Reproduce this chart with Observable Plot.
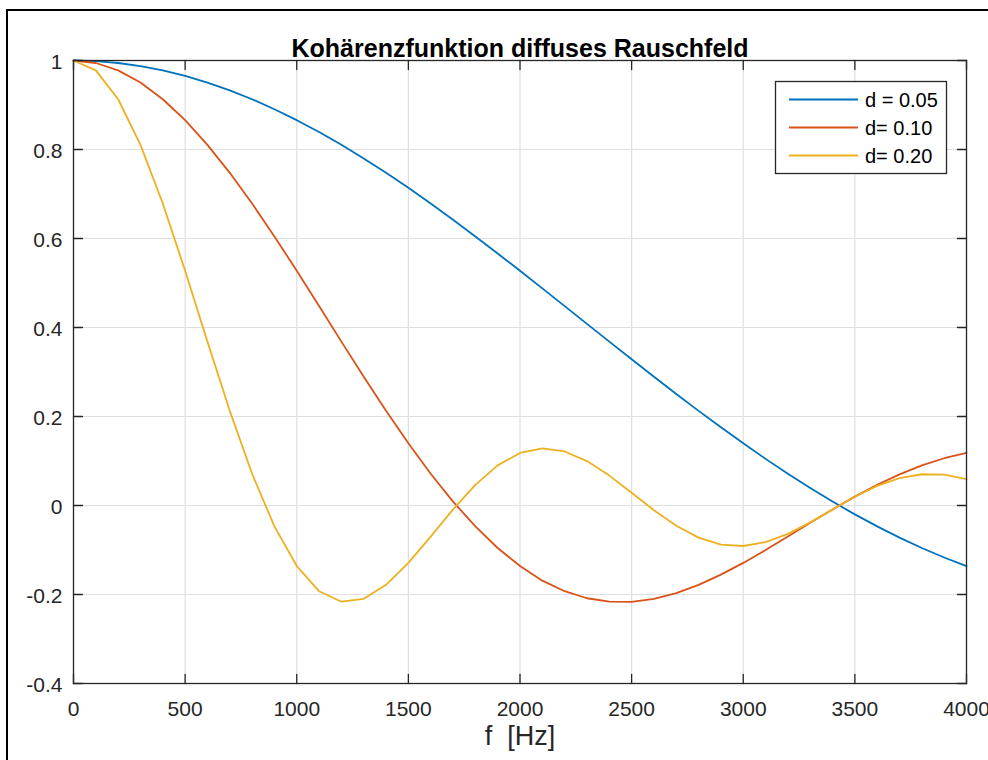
<!DOCTYPE html>
<html><head><meta charset="utf-8">
<script src="https://cdn.jsdelivr.net/npm/d3@7"></script>
<script src="https://cdn.jsdelivr.net/npm/@observablehq/plot@0.6"></script>
<style>
html,body{margin:0;padding:0;background:#fff;overflow:hidden;width:988px;height:760px;}
#wrap{position:relative;width:988px;height:760px;overflow:hidden;}
#chart{position:absolute;left:0;top:0;}
#outer{position:absolute;left:6px;top:9px;width:1100px;height:1100px;border:2px solid #000;pointer-events:none;}
#legend{position:absolute;left:0;top:0;}
</style></head>
<body><div id="wrap"><div id="chart"></div><div id="legend"></div><div id="outer"></div></div>
<script>
const freq = [0,100,200,300,400,500,600,700,800,900,1000,1100,1200,1300,1400,1500,1600,1700,1800,1900,2000,2100,2200,2300,2400,2500,2600,2700,2800,2900,3000,3100,3200,3300,3400,3500,3600,3700,3800,3900,4000];
const d005 = [1,0.9986,0.9944,0.9875,0.9778,0.9654,0.9504,0.9329,0.9129,0.8905,0.8659,0.8392,0.8105,0.7799,0.7476,0.7138,0.6786,0.6422,0.6047,0.5664,0.5274,0.4879,0.4481,0.4082,0.3683,0.3286,0.2894,0.2507,0.2127,0.1757,0.1397,0.1048,0.0713,0.0393,0.0088,-0.0200,-0.0470,-0.0722,-0.0955,-0.1168,-0.1361];
const d010 = [1,0.9944,0.9778,0.9504,0.9129,0.8659,0.8105,0.7476,0.6786,0.6047,0.5274,0.4481,0.3683,0.2894,0.2127,0.1397,0.0713,0.0088,-0.0470,-0.0955,-0.1361,-0.1689,-0.1926,-0.2084,-0.2162,-0.2164,-0.2097,-0.1967,-0.1783,-0.1554,-0.1290,-0.1001,-0.0698,-0.0390,-0.0088,0.0199,0.0465,0.0700,0.0901,0.1062,0.1180];
const d020 = [1,0.9778,0.9129,0.8105,0.6786,0.5274,0.3683,0.2127,0.0713,-0.0470,-0.1361,-0.1926,-0.2162,-0.2097,-0.1783,-0.1290,-0.0698,-0.0088,0.0465,0.0901,0.1180,0.1283,0.1214,0.0998,0.0672,0.0287,-0.0106,-0.0455,-0.0722,-0.0877,-0.0910,-0.0824,-0.0637,-0.0379,-0.0088,0.0198,0.0442,0.0616,0.0702,0.0692,0.0593];
const seriesNames = ["d = 0.05","d= 0.10","d= 0.20"];
const seriesColors = ["#0072BD","#D95319","#EDB120"];
const xTicks = [0,500,1000,1500,2000,2500,3000,3500,4000];
const yTicks = [-0.4,-0.2,0,0.2,0.4,0.6,0.8,1];
const titleText = "Kohärenzfunktion diffuses Rauschfeld";
const xLabelText = "f\u00a0 [Hz]";

const seriesValues = [d005, d010, d020];
const rows = [];
seriesValues.forEach((vals, si) => vals.forEach((v, i) => rows.push({f: freq[i], c: v, s: seriesNames[si]})));

const ink = "#262626";
const font = "'Liberation Sans', Arial, Helvetica, sans-serif";
const tickShape = {draw(ctx, l) { ctx.moveTo(0, 0); ctx.lineTo(0, -l); }};
const tickOpts = {length: 9, anchor: "start", shape: tickShape, stroke: ink, strokeWidth: 1.3};
const fmtY = d => d === 0 ? "0" : String(+d.toFixed(1));

const chart = Plot.plot({
  width: 988, height: 760,
  marginLeft: 73, marginRight: 22, marginTop: 60, marginBottom: 77,
  style: {fontFamily: font, fontSize: "21px", color: ink, background: "white", overflow: "visible"},
  x: {domain: [0, 4000]},
  y: {domain: [-0.4, 1]},
  color: {domain: seriesNames, range: seriesColors},
  marks: [
    Plot.gridX(xTicks, {stroke: "#dfdfdf", strokeOpacity: 1, strokeWidth: 1.2}),
    Plot.gridY(yTicks, {stroke: "#dfdfdf", strokeOpacity: 1, strokeWidth: 1.2}),
    Plot.line(rows, {x: "f", y: "c", z: "s", stroke: "s", strokeWidth: 1.8}),
    Plot.frame({stroke: ink, strokeWidth: 1.3}),
    Plot.vector(xTicks, {x: d => d, frameAnchor: "bottom", rotate: 0, ...tickOpts}),
    Plot.vector(xTicks, {x: d => d, frameAnchor: "top", rotate: 180, ...tickOpts}),
    Plot.vector(yTicks, {y: d => d, frameAnchor: "left", rotate: 90, ...tickOpts}),
    Plot.vector(yTicks, {y: d => d, frameAnchor: "right", rotate: 270, ...tickOpts}),
    Plot.axisX(xTicks, {tickSize: 0, tickPadding: 18, tickFormat: d => String(d), label: null, fill: ink}),
    Plot.axisY(yTicks, {tickSize: 0, tickPadding: 11, tickFormat: fmtY, label: null, dy: 2, fill: ink}),
    Plot.text([titleText], {text: d => d, frameAnchor: "top", dy: -21, fontWeight: "bold", fontSize: 25, fill: "#000"}),
    Plot.text([xLabelText], {text: d => d, frameAnchor: "bottom", dy: 61, fontSize: 27, fill: ink})
  ]
});
document.getElementById("chart").appendChild(chart);

// legend
const lg = d3.select("#legend").append("svg").attr("width", 988).attr("height", 760)
  .style("font-family", font);
lg.append("rect").attr("x", 775.5).attr("y", 81.5).attr("width", 171).attr("height", 92)
  .attr("fill", "white").attr("stroke", ink).attr("stroke-width", 1.3);
const rowY = [99.5, 127.5, 155.5];
seriesNames.forEach((name, i) => {
  lg.append("line").attr("x1", 789).attr("x2", 858).attr("y1", rowY[i]).attr("y2", rowY[i])
    .attr("stroke", seriesColors[i]).attr("stroke-width", 1.8);
  lg.append("text").attr("x", 865).attr("y", rowY[i]).attr("dy", "0.35em")
    .attr("font-size", 20).attr("fill", "#000").text(name);
});
</script>
</body></html>
